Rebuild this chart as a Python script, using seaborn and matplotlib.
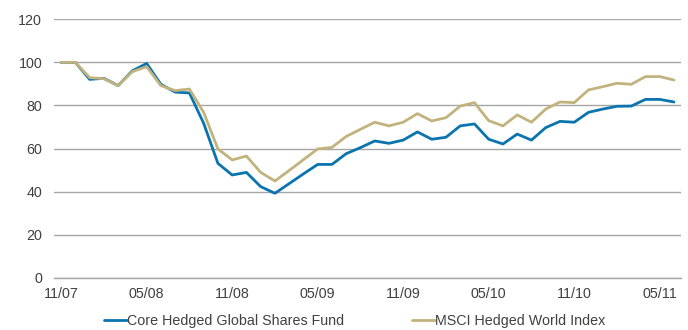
import numpy as np
import pandas as pd
import matplotlib
matplotlib.use("Agg")
import matplotlib.pyplot as plt
import seaborn as sns

# monthly values, Nov 2007 - Jun 2011 (rebased to 100)
months = pd.period_range("2007-11", "2011-06", freq="M").strftime("%m/%y").tolist()

core_fund = [100.0, 100.0, 92.1, 92.6, 89.2, 96.1, 99.5, 89.8, 86.2, 85.8,
             71.7, 53.1, 47.7, 48.9, 42.3, 39.2, 43.7, 48.2, 52.6, 52.6,
             57.6, 60.4, 63.5, 62.4, 63.9, 67.7, 64.3, 65.2, 70.5, 71.4,
             64.3, 62.1, 66.7, 63.9, 69.7, 72.6, 72.2, 76.8, 78.3, 79.6,
             79.7, 82.8, 82.8, 81.6]
msci_index = [100.0, 100.0, 92.9, 92.4, 89.2, 95.7, 98.0, 89.2, 86.9, 87.6,
              76.8, 59.8, 54.7, 56.5, 48.9, 44.9, 49.8, 54.8, 59.8, 60.5,
              65.6, 68.9, 72.2, 70.5, 72.2, 76.2, 72.8, 74.3, 79.7, 81.3,
              72.9, 70.5, 75.6, 72.2, 78.3, 81.6, 81.3, 87.2, 88.7, 90.3,
              89.8, 93.4, 93.4, 91.8]

series_names = ["Core Hedged Global Shares Fund", "MSCI Hedged World Index"]
colors = ["#0a74ae", "#c2b37e"]

df = pd.DataFrame({
    "pos": list(range(len(months))) * 2,
    "value": core_fund + msci_index,
    "series": [series_names[0]] * len(months) + [series_names[1]] * len(months),
})

sns.set_style("white")
plt.rcParams["font.family"] = ["Liberation Sans", "DejaVu Sans"]
fs = 10.3

fig = plt.figure(figsize=(6.88, 3.30), dpi=100)
ax = fig.add_axes([0.0785, 0.1585, 0.9115, 0.783])

sns.lineplot(data=df, x="pos", y="value", hue="series", palette=colors,
             linewidth=2.0, ax=ax, legend=False)

ax.set_xlim(-0.5, len(months) - 0.5)
ax.set_ylim(0, 120)
ax.set_yticks(range(0, 121, 20))
ax.yaxis.grid(True, color="#a6a6a6", linewidth=1.0)
ax.set_axisbelow(True)

# tick marks at category boundaries, labels centred on the month
label_pos = list(range(0, len(months), 6))
ax.set_xticks([p - 0.5 for p in label_pos])
ax.set_xticklabels([])
ax.set_xticks(label_pos, minor=True)
ax.set_xticklabels([months[p] for p in label_pos], minor=True)
ax.tick_params(axis="x", which="major", length=4, width=1, color="#a6a6a6", direction="out")
ax.tick_params(axis="x", which="minor", length=0, pad=7, labelsize=fs, labelcolor="#404040")
ax.tick_params(axis="y", length=0, pad=8.5, labelsize=fs, labelcolor="#404040")

for side in ["left", "right", "top"]:
    ax.spines[side].set_visible(False)
ax.spines["bottom"].set_color("#a6a6a6")
ax.spines["bottom"].set_linewidth(1.0)

ax.set_xlabel("")
ax.set_ylabel("")

handles = [plt.Line2D([], [], color=c, linewidth=2.0) for c in colors]
fig.legend(handles, series_names, loc="center", bbox_to_anchor=(0.516, 0.026),
           ncol=2, frameon=False, fontsize=fs, handlelength=1.55, handletextpad=0.05,
           columnspacing=4.75, labelcolor="#404040", borderpad=0, borderaxespad=0)

fig.savefig("out.png", dpi=100)
